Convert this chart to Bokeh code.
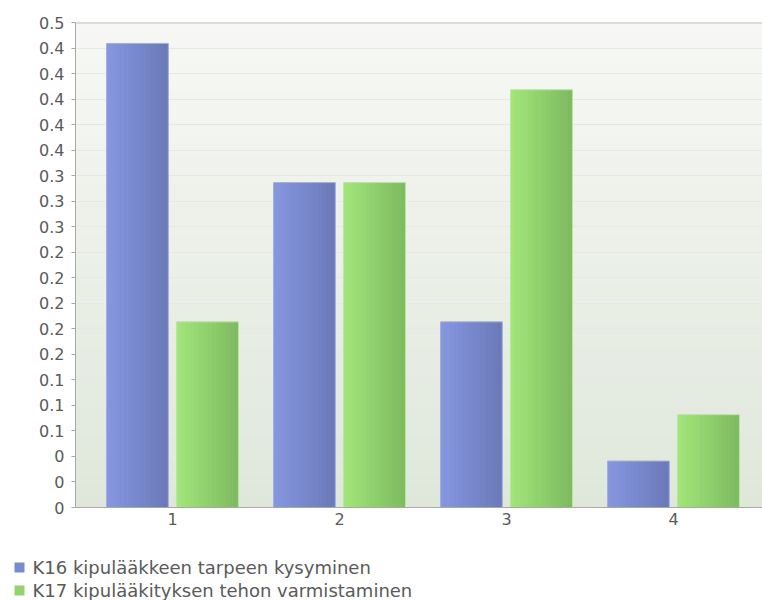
from bokeh.plotting import figure
from bokeh.models import FixedTicker, Range1d, Span, ColumnDataSource
from bokeh.layouts import column, row
from bokeh.embed import file_html
from bokeh.resources import INLINE
from bokeh.core.properties import value

# --- data -------------------------------------------------------------
categories = ["1", "2", "3", "4"]
series_names = [
    "K16 kipulääkkeen tarpeen kysyminen",
    "K17 kipulääkityksen tehon varmistaminen",
]
k16_values = [0.4545, 0.3182, 0.1818, 0.0455]
k17_values = [0.1818, 0.3182, 0.4091, 0.0909]

y_ticks = [k * 0.025 for k in range(20)]
y_tick_labels = ["0", "0", "0", "0.1", "0.1", "0.1", "0.2", "0.2", "0.2", "0.2",
                 "0.2", "0.3", "0.3", "0.3", "0.4", "0.4", "0.4", "0.4", "0.4", "0.5"]

# --- styling ----------------------------------------------------------
FONT = "DejaVu Sans"
TEXT_COLOR = "#5a5a5a"
AXIS_COLOR = "#a8a8a8"
GRID_COLOR = "#e6e8e4"
BAR_WIDTH = 0.37
OFFSETS = [-0.21, 0.21]
GRADIENTS = [((134, 151, 225), (106, 121, 182)),   # blue: light left -> dark right
             ((162, 230, 122), (126, 185, 96))]    # green
EDGES = ["#a3aee4", "#b4e89a"]
BG_TOP, BG_BOTTOM = (247, 248, 245), (223, 231, 218)
X_START, X_END = 0.419, 4.533
Y_START, Y_END = 0.0, max(y_ticks) + 1e-9


def mix(c0, c1, t):
    r, g, b = (round(a + (b_ - a) * t) for a, b_ in zip(c0, c1))
    return "#%02x%02x%02x" % (r, g, b)


p = figure(width=762, height=540, output_backend="svg", toolbar_location=None,
           x_range=Range1d(X_START, X_END), y_range=Range1d(Y_START, Y_END),
           min_border_left=75, min_border_right=0, min_border_top=22,
           min_border_bottom=33, background_fill_color=None,
           border_fill_color="white", outline_line_color=None)

# vertical gradient behind the bars
n_bands = 48
bands = ColumnDataSource(dict(
    bottom=[Y_START + (Y_END - Y_START) * i / n_bands for i in range(n_bands)],
    top=[Y_START + (Y_END - Y_START) * (i + 1.05) / n_bands for i in range(n_bands)],
    color=[mix(BG_BOTTOM, BG_TOP, (i + 0.5) / n_bands) for i in range(n_bands)],
))
p.quad(left=X_START, right=X_END, bottom="bottom", top="top", fill_color="color",
       line_color=None, source=bands, level="image")

# bars, each filled with a left-to-right shading
n_strips = 14
for values, off, (c0, c1), edge in zip([k16_values, k17_values], OFFSETS, GRADIENTS, EDGES):
    lefts, rights, tops, colors = [], [], [], []
    for i, v in enumerate(values):
        x0 = (i + 1) + off - BAR_WIDTH / 2
        dw = BAR_WIDTH / n_strips
        for j in range(n_strips):
            lefts.append(x0 + j * dw)
            rights.append(x0 + (j + 1) * dw + (dw * 0.3 if j < n_strips - 1 else 0))
            tops.append(v)
            colors.append(mix(c0, c1, (j + 0.5) / n_strips))
    p.quad(left=lefts, right=rights, bottom=0, top=tops, fill_color=colors,
           line_color=None)
    p.vbar(x=[i + 1 + off for i in range(len(values))], top=values, width=BAR_WIDTH,
           fill_color=None, line_color=edge, line_width=1)

# top border of the plotting area
p.add_layout(Span(location=Y_END, dimension="width", line_color="#c4c6c4", line_width=2))

# axes
p.xgrid.visible = False
p.ygrid.ticker = FixedTicker(ticks=y_ticks)
p.ygrid.grid_line_color = GRID_COLOR

p.yaxis.ticker = FixedTicker(ticks=y_ticks)
p.yaxis.major_label_overrides = {t: lab for t, lab in zip(y_ticks, y_tick_labels)}
p.yaxis.major_tick_out = 4
p.yaxis.major_tick_in = 0
p.yaxis.minor_tick_line_color = None
p.yaxis.major_label_standoff = 7

p.xaxis.ticker = FixedTicker(ticks=[i + 1 for i in range(len(categories))])
p.xaxis.major_label_overrides = {i + 1: c for i, c in enumerate(categories)}
p.xaxis.major_tick_line_color = None
p.xaxis.minor_tick_line_color = None
p.xaxis.major_tick_out = 0
p.xaxis.major_label_standoff = 5

for ax in (p.xaxis, p.yaxis):
    ax.axis_line_color = AXIS_COLOR
    ax.major_label_text_font = FONT
    ax.major_label_text_font_size = "16px"
    ax.major_label_text_color = TEXT_COLOR
p.yaxis.major_tick_line_color = AXIS_COLOR

# legend strip beneath the chart
leg = figure(width=762, height=60, output_backend="svg", toolbar_location=None,
             x_range=Range1d(0, 762), y_range=Range1d(60, 0),
             x_axis_location=None, y_axis_location=None,
             min_border=0, min_border_left=0, min_border_right=0,
             min_border_top=0, min_border_bottom=0,
             outline_line_color=None, background_fill_color="white")
leg.grid.visible = False
leg_y = [27, 50]
leg.rect(x=[19, 19], y=leg_y, width=10, height=10,
         fill_color=[mix(*GRADIENTS[0], 0.4), mix(*GRADIENTS[1], 0.4)],
         line_color=None)
leg.text(x=[32, 32], y=leg_y, text=series_names, text_font=value(FONT),
         text_font_size="18px", text_color=TEXT_COLOR, text_baseline="middle")

layout = column(row(p), row(leg), spacing=0)
open("out.html", "w").write(file_html(layout, INLINE))
